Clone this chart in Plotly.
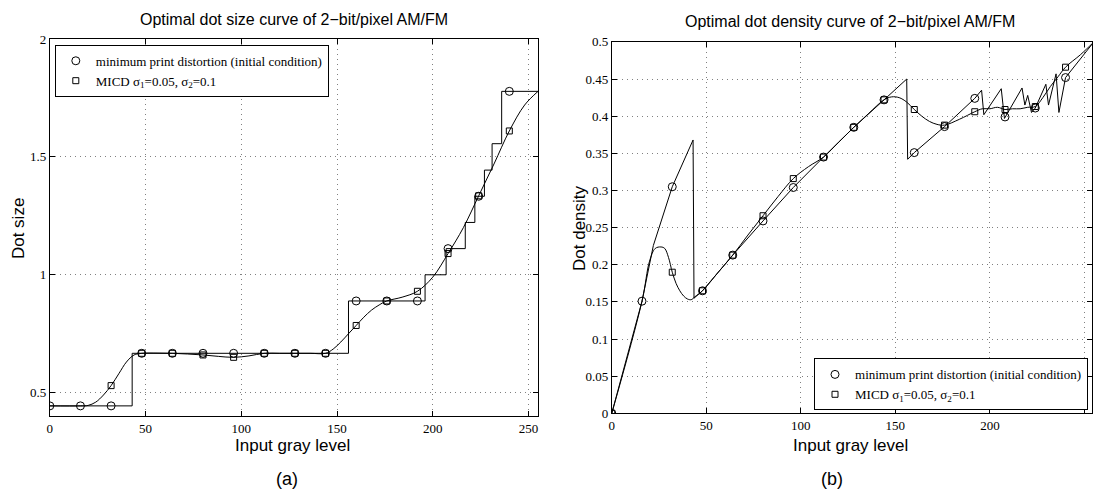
import plotly.graph_objects as go

# ---------------- data ----------------
gray16 = [0, 16, 32, 48, 64, 80, 96, 112, 128, 144, 160, 176, 192, 208, 224, 240]

# (a) dot size
size_init_pts = [0.444, 0.444, 0.444, 0.667, 0.667, 0.667, 0.667, 0.667, 0.667, 0.667,
                 0.889, 0.889, 0.889, 1.111, 1.333, 1.778]
size_micd_x = [32, 48, 64, 80, 96, 112, 128, 144, 160, 176, 192, 208, 224, 240]
size_micd_pts = [0.53, 0.667, 0.667, 0.66, 0.65, 0.667, 0.667, 0.667, 0.785, 0.889,
                 0.93, 1.09, 1.335, 1.61]
size_step_x = [0, 43, 156, 196, 207, 217, 222, 227, 231, 236, 255]
size_step_y = [0.444, 0.667, 0.889, 1.0, 1.111, 1.222, 1.333, 1.444, 1.556, 1.778, 1.778]
size_curve_x = [0, 16, 20, 24, 28, 32, 36, 40, 44, 48, 56, 64, 72, 80, 88, 96, 104, 112, 120,
                128, 136, 144, 148, 152, 156, 160, 164, 168, 172, 176, 184, 192, 200, 208,
                216, 224, 232, 240, 248, 255]
size_curve_y = [0.444, 0.444, 0.446, 0.46, 0.49, 0.53, 0.58, 0.63, 0.66, 0.667, 0.668, 0.667,
                0.664, 0.66, 0.654, 0.65, 0.656, 0.667, 0.667, 0.667, 0.667, 0.667, 0.685,
                0.715, 0.75, 0.785, 0.82, 0.85, 0.872, 0.889, 0.905, 0.93, 0.99, 1.09, 1.2,
                1.335, 1.47, 1.61, 1.72, 1.778]

# (b) dot density
dens_init_pts = [0, 0.151, 0.305, 0.165, 0.213, 0.259, 0.304, 0.345, 0.385, 0.422, 0.351,
                 0.386, 0.424, 0.399, 0.411, 0.452]
dens_micd_x = [0, 32, 48, 64, 80, 96, 112, 128, 144, 160, 176, 192, 208, 224, 240]
dens_micd_pts = [0, 0.19, 0.165, 0.213, 0.266, 0.316, 0.345, 0.385, 0.422, 0.409, 0.388,
                 0.406, 0.409, 0.413, 0.466]
dens_init_line_x = [0, 16, 22, 32, 43, 43.5, 48, 64, 80, 96, 112, 128, 144, 156, 156.5, 160,
                    176, 192, 195.6, 196.8, 206, 207.7, 217, 218.5, 220, 222, 224, 229.6,
                    231, 235, 236.5, 240, 255]
dens_init_line_y = [0, 0.151, 0.226, 0.305, 0.368, 0.155, 0.165, 0.213, 0.259, 0.304, 0.345,
                    0.385, 0.422, 0.450, 0.342, 0.351, 0.386, 0.424, 0.435, 0.402, 0.437,
                    0.397, 0.438, 0.415, 0.428, 0.405, 0.411, 0.443, 0.415, 0.457, 0.405,
                    0.452, 0.5]
dens_curve_x = [0, 16, 20, 23, 26, 28, 30, 32, 34, 36, 38, 40, 42, 44, 48, 56, 64, 72, 80, 88,
                96, 104, 112, 120, 128, 136, 144, 148, 152, 156, 160, 164, 168, 172, 176, 184,
                192, 196, 200, 204, 208, 212, 216, 220, 224, 228, 232, 236, 240, 248, 255]
dens_curve_y = [0, 0.151, 0.205, 0.222, 0.224, 0.222, 0.21, 0.19, 0.175, 0.165, 0.158, 0.154,
                0.153, 0.157, 0.165, 0.189, 0.213, 0.24, 0.266, 0.292, 0.316, 0.332, 0.345,
                0.365, 0.385, 0.404, 0.422, 0.426, 0.425, 0.419, 0.409, 0.4, 0.393, 0.389,
                0.388, 0.396, 0.406, 0.41, 0.41, 0.412, 0.409, 0.41, 0.41, 0.412, 0.413,
                0.425, 0.44, 0.453, 0.466, 0.483, 0.5]

xticks = [0, 50, 100, 150, 200, 250]
size_yticks = [0.5, 1, 1.5, 2]
dens_yticks = [0, 0.05, 0.1, 0.15, 0.2, 0.25, 0.3, 0.35, 0.4, 0.45, 0.5]
dens_yticktext = ["0", "0.05", "0.1", "0.15", "0.2", "0.25", "0.3", "0.35", "0.4", "0.45", "0.5"]

name_init = "minimum print distortion (initial condition)"
name_micd = "MICD σ<sub>1</sub>=0.05, σ<sub>2</sub>=0.1"

# ---------------- figure ----------------
W, H = 1093, 497
SANS = "Liberation Sans, Arial, sans-serif"
SERIF = "Liberation Serif, Times New Roman, serif"
line = dict(color="black", width=1)
circ = dict(symbol="circle-open", size=8, color="black", line=dict(width=1, color="black"))
sq = dict(symbol="square-open", size=6, color="black", line=dict(width=1, color="black"))

fig = go.Figure()

# (a)
fig.add_trace(go.Scatter(x=size_step_x, y=size_step_y, mode="lines", line=line,
                         line_shape="hv", showlegend=False, xaxis="x", yaxis="y"))
fig.add_trace(go.Scatter(x=size_curve_x, y=size_curve_y, mode="lines", line=line,
                         line_shape="spline", showlegend=False, xaxis="x", yaxis="y"))
fig.add_trace(go.Scatter(x=gray16, y=size_init_pts, mode="markers", marker=circ,
                         name=name_init, legend="legend", xaxis="x", yaxis="y"))
fig.add_trace(go.Scatter(x=size_micd_x, y=size_micd_pts, mode="markers", marker=sq,
                         name=name_micd, legend="legend", xaxis="x", yaxis="y"))

# (b)
fig.add_trace(go.Scatter(x=dens_init_line_x, y=dens_init_line_y, mode="lines", line=line,
                         showlegend=False, xaxis="x2", yaxis="y2"))
fig.add_trace(go.Scatter(x=dens_curve_x, y=dens_curve_y, mode="lines", line=line,
                         line_shape="spline", showlegend=False, xaxis="x2", yaxis="y2"))
fig.add_trace(go.Scatter(x=gray16, y=dens_init_pts, mode="markers", marker=circ,
                         name=name_init, legend="legend2", xaxis="x2", yaxis="y2"))
fig.add_trace(go.Scatter(x=dens_micd_x, y=dens_micd_pts, mode="markers", marker=sq,
                         name=name_micd, legend="legend2", xaxis="x2", yaxis="y2"))

axis_common = dict(showline=True, linecolor="black", linewidth=1, mirror="ticks",
                   ticks="inside", ticklen=5, tickcolor="black", showgrid=True,
                   gridcolor="#808080", gridwidth=1, griddash="1px,4px", zeroline=False,
                   tickfont=dict(family=SERIF, size=13, color="black"))

legend_common = dict(bordercolor="black", borderwidth=1, bgcolor="white",
                     font=dict(family=SERIF, size=13, color="black"),
                     tracegroupgap=0, itemwidth=30)

fig.update_layout(
    width=W, height=H, autosize=False,
    margin=dict(l=0, r=0, t=0, b=0),
    paper_bgcolor="white", plot_bgcolor="white",
    xaxis=dict(domain=[47 / W, 537 / W], range=[0, 255], tickvals=xticks, anchor="y",
               **axis_common),
    yaxis=dict(domain=[1 - 422 / H, 1 - 33 / H], range=[0.4, 2], tickvals=size_yticks,
               anchor="x", **axis_common),
    xaxis2=dict(domain=[611 / W, 1.0], range=[0, 254], tickvals=xticks, anchor="y2",
                **axis_common),
    yaxis2=dict(domain=[1 - 419 / H, 1 - 36 / H], range=[0, 0.5], tickvals=dens_yticks,
                ticktext=dens_yticktext, anchor="x2", **axis_common),
    legend=dict(x=52 / W, y=1 - 39 / H, xanchor="left", yanchor="top", **legend_common),
    legend2=dict(x=1089 / W, y=1 - 416 / H, xanchor="right", yanchor="bottom",
                 **legend_common),
)

def ann(text, x, y, size, angle=0, family=SANS):
    fig.add_annotation(text=text, x=x / W, y=1 - y / H, xref="paper", yref="paper",
                       showarrow=False, textangle=angle, xanchor="center", yanchor="middle",
                       font=dict(family=family, size=size, color="black"))

ann("Optimal dot size curve of 2\u2212bit/pixel AM/FM", 292, 13, 16)
ann("Optimal dot density curve of 2\u2212bit/pixel AM/FM", 850, 15, 16)
ann("Input gray level", 291, 452, 17)
ann("Input gray level", 851, 452, 17)
ann("Dot size", 15, 228, 17, angle=-90)
ann("Dot density", 578, 228, 17, angle=-90)
ann("(a)", 285, 487, 18)
ann("(b)", 832, 487, 18)

fig.write_html("out.html")
